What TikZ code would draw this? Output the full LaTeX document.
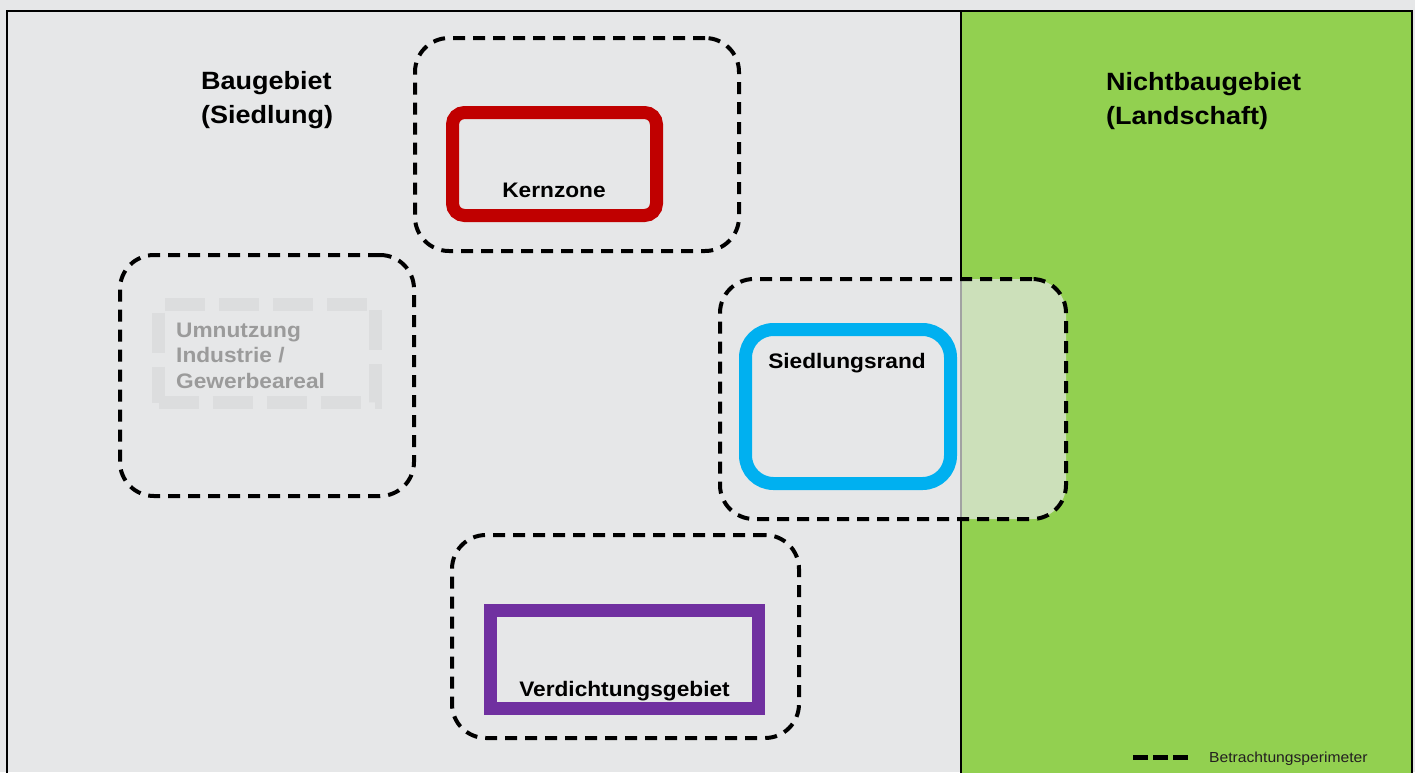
\documentclass[tikz,border=0pt]{standalone}
\usepackage{fontspec}
\setmainfont{Liberation Sans}[FakeStretch=1.08]
\definecolor{bggrey}{RGB}{230,231,232}
\definecolor{landgreen}{RGB}{146,208,80}
\definecolor{kernred}{RGB}{192,0,0}
\definecolor{randblue}{RGB}{0,176,240}
\definecolor{dichtpurple}{RGB}{112,48,160}
\definecolor{umgrey}{RGB}{220,221,222}
\definecolor{umtext}{RGB}{155,155,155}
\definecolor{legtext}{RGB}{35,31,32}
\begin{document}
\begin{tikzpicture}[x=1pt,y=-1pt,
  perim/.style={draw=black,line width=4pt,dash pattern=on 12pt off 8pt,rounded corners=34pt,inner sep=0pt},
  zonebox/.style={line width=13pt,inner sep=0pt},
  heading/.style={font=\bfseries\fontsize{25}{34}\selectfont,inner sep=0pt,anchor=base west},
  zonelabel/.style={font=\bfseries\fontsize{21}{25.5}\selectfont,inner sep=0pt,anchor=base}]
\useasboundingbox (0,0) rectangle (1415,772);
\clip (0,0) rectangle (1415,772);
% background and regions
\fill[bggrey] (0,0) rectangle (1415,772);
\fill[landgreen] (961,11) rectangle (1412,790);
\draw[line width=2pt] (961,11) -- (961,790);
\draw[line width=2pt] (7,790) -- (7,11) -- (1412,11) -- (1412,790);
% perimeters
\node[perim, minimum width=324pt, minimum height=213pt] (pkern) at (577,144.5) {};
\node[perim, minimum width=294pt, minimum height=241pt] (pum) at (267,375.5) {};
\node[perim, fill=bggrey, fill opacity=0.7, minimum width=346pt, minimum height=240pt] (prand) at (893,399) {};
\node[perim, minimum width=347pt, minimum height=203pt] (pdicht) at (625.5,636.5) {};
% zones
\node[zonebox, draw=kernred, rounded corners=12pt, minimum width=204pt, minimum height=103pt] (kern) at (554.5,164) {};
\node[draw=umgrey, line width=13pt, dash pattern=on 40pt off 14pt, inner sep=0pt, minimum width=217pt, minimum height=98pt] (um) at (267,353.5) {};
\node[zonebox, draw=randblue, rounded corners=28pt, minimum width=205pt, minimum height=154pt] (rand) at (848,406.5) {};
\node[zonebox, draw=dichtpurple, minimum width=268pt, minimum height=98pt] (dicht) at (624.5,659.5) {};
% labels
\node[heading] (hbau) at (201,89) {\begin{tabular}[t]{@{}l@{}}Baugebiet\\(Siedlung)\end{tabular}};
\node[heading] (hland) at (1106,90) {\begin{tabular}[t]{@{}l@{}}Nichtbaugebiet\\(Landschaft)\end{tabular}};
\node[zonelabel] (tkern) at (554,197) {Kernzone};
\node[zonelabel] (trand) at (847,368) {Siedlungsrand};
\node[zonelabel] (tdicht) at (624.5,696) {Verdichtungsgebiet};
\node[zonelabel, anchor=base west, text=umtext] (tum) at (176,337) {\begin{tabular}[t]{@{}l@{}}Umnutzung\\Industrie /\\Gewerbeareal\end{tabular}};
% legend
\coordinate (leg1) at (1133,757);
\coordinate (leg2) at (1188,757);
\draw[line width=5pt, dash pattern=on 15pt off 5pt] (leg1) -- (leg2);
\node[font=\fontsize{14.5}{17}\selectfont, text=legtext, inner sep=0pt, anchor=base west] (tleg) at (1209,762) {Betrachtungsperimeter};
\end{tikzpicture}
\end{document}
